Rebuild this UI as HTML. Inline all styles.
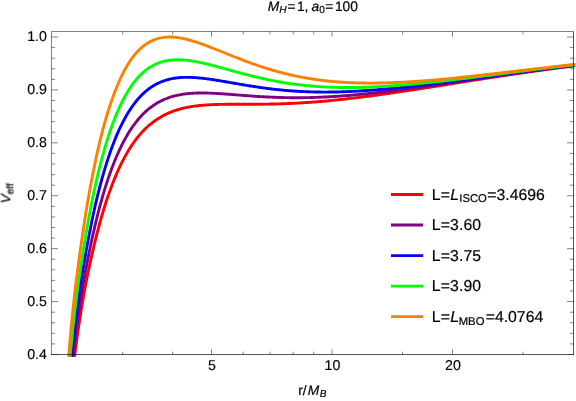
<!DOCTYPE html>
<html><head><meta charset="utf-8"><title>Veff</title><style>
html,body{margin:0;padding:0;background:#fff;}
svg{display:block;font-family:"Liberation Sans",sans-serif;text-rendering:geometricPrecision;}
</style></head><body>
<svg width="576" height="401" viewBox="0 0 576 401">
<rect width="576" height="401" fill="#fff"/>
<defs><clipPath id="c"><rect x="49" y="29" width="526.1" height="327.8"/></clipPath></defs>
<g clip-path="url(#c)" fill="none" stroke-width="2.9" stroke-linejoin="round">
<path d="M72.60,371.60 L73.79,362.55 L74.94,353.78 L76.04,345.26 L77.15,336.99 L78.26,328.98 L79.44,321.20 L80.62,313.66 L81.80,306.35 L82.98,299.27 L84.16,292.39 L85.41,285.73 L86.69,279.27 L87.96,273.02 L89.24,266.95 L90.52,261.08 L91.79,255.39 L93.05,249.87 L94.30,244.53 L95.55,239.36 L96.80,234.35 L98.06,229.51 L99.31,224.81 L100.56,220.27 L101.81,215.88 L103.06,211.63 L104.31,207.51 L105.56,203.53 L106.81,199.68 L108.07,195.96 L109.33,192.36 L110.60,188.89 L111.86,185.52 L113.11,182.27 L114.37,179.14 L115.63,176.10 L116.89,173.18 L118.15,170.35 L119.40,167.62 L120.66,164.98 L121.91,162.44 L123.17,159.99 L124.42,157.62 L125.68,155.34 L126.93,153.13 L128.19,151.01 L129.44,148.97 L130.69,146.99 L131.94,145.10 L133.20,143.27 L134.45,141.51 L135.70,139.81 L136.95,138.18 L138.20,136.61 L139.45,135.10 L140.70,133.65 L141.95,132.25 L143.20,130.91 L144.45,129.62 L145.70,128.38 L146.96,127.19 L148.21,126.05 L149.46,124.95 L150.96,123.90 L152.21,122.90 L153.45,121.93 L154.69,121.01 L155.94,120.12 L157.18,119.27 L158.42,118.46 L159.66,117.68 L160.91,116.94 L162.15,116.23 L163.39,115.55 L164.64,114.91 L165.88,114.29 L167.12,113.70 L168.37,113.14 L169.61,112.60 L170.85,112.09 L172.09,111.61 L173.34,111.14 L174.58,110.71 L175.82,110.29 L177.07,109.89 L178.31,109.52 L179.55,109.16 L180.79,108.82 L182.04,108.50 L183.28,108.20 L184.52,107.92 L185.77,107.65 L187.01,107.39 L188.25,107.15 L189.50,106.93 L190.74,106.72 L191.98,106.52 L193.22,106.33 L194.47,106.15 L195.71,105.99 L196.95,105.84 L198.20,105.69 L199.44,105.56 L200.68,105.44 L201.92,105.32 L203.17,105.22 L204.41,105.12 L205.65,105.03 L206.90,104.94 L208.14,104.86 L209.38,104.79 L210.63,104.73 L211.87,104.67 L213.11,104.62 L214.35,104.57 L215.60,104.52 L216.84,104.48 L218.08,104.45 L219.33,104.42 L220.57,104.39 L221.81,104.37 L223.05,104.35 L224.30,104.33 L225.54,104.31 L226.78,104.30 L228.03,104.29 L229.27,104.28 L230.51,104.27 L231.76,104.26 L233.00,104.26 L234.24,104.26 L235.48,104.25 L236.73,104.25 L237.97,104.25 L239.21,104.25 L240.46,104.25 L241.70,104.25 L242.94,104.25 L244.18,104.25 L245.43,104.25 L246.67,104.25 L247.91,104.25 L249.16,104.25 L250.40,104.25 L251.64,104.25 L252.89,104.24 L254.13,104.24 L255.37,104.23 L256.61,104.23 L257.86,104.22 L259.10,104.21 L260.34,104.20 L261.59,104.19 L262.83,104.18 L264.07,104.17 L265.31,104.15 L266.56,104.13 L267.80,104.12 L269.04,104.10 L270.29,104.07 L271.53,104.05 L272.77,104.02 L274.02,104.00 L275.26,103.97 L276.50,103.94 L277.74,103.90 L278.99,103.87 L280.23,103.83 L281.47,103.79 L282.72,103.75 L283.96,103.71 L285.20,103.66 L286.44,103.62 L287.69,103.57 L288.93,103.52 L290.17,103.46 L291.42,103.41 L292.66,103.35 L293.90,103.29 L295.15,103.23 L296.39,103.16 L297.63,103.10 L298.87,103.03 L300.12,102.96 L301.36,102.88 L302.60,102.81 L303.85,102.73 L305.09,102.65 L306.33,102.57 L307.57,102.49 L308.82,102.40 L310.06,102.32 L311.30,102.23 L312.55,102.14 L313.79,102.04 L315.03,101.95 L316.28,101.85 L317.52,101.75 L318.76,101.65 L320.00,101.54 L321.25,101.44 L322.49,101.33 L323.73,101.22 L324.98,101.11 L326.22,101.00 L327.46,100.88 L328.70,100.77 L329.95,100.65 L331.19,100.53 L332.43,100.40 L333.68,100.28 L334.92,100.15 L336.16,100.03 L337.41,99.90 L338.65,99.77 L339.89,99.64 L341.13,99.50 L342.38,99.37 L343.62,99.23 L344.86,99.09 L346.11,98.95 L347.35,98.81 L348.59,98.67 L349.83,98.52 L351.08,98.37 L352.32,98.23 L353.56,98.08 L354.81,97.93 L356.05,97.78 L357.29,97.62 L358.54,97.47 L359.78,97.31 L361.02,97.16 L362.26,97.00 L363.51,96.84 L364.75,96.68 L365.99,96.52 L367.24,96.36 L368.48,96.19 L369.72,96.03 L370.96,95.86 L372.21,95.70 L373.45,95.53 L374.69,95.36 L375.94,95.19 L377.18,95.02 L378.42,94.85 L379.67,94.68 L380.91,94.50 L382.15,94.33 L383.39,94.15 L384.64,93.98 L385.88,93.80 L387.12,93.62 L388.37,93.45 L389.61,93.27 L390.85,93.09 L392.09,92.91 L393.34,92.73 L394.58,92.55 L395.82,92.36 L397.07,92.18 L398.31,92.00 L399.55,91.81 L400.80,91.63 L402.04,91.44 L403.28,91.26 L404.52,91.07 L405.77,90.89 L407.01,90.70 L408.25,90.51 L409.50,90.33 L410.74,90.14 L411.98,89.95 L413.22,89.76 L414.47,89.57 L415.71,89.38 L416.95,89.20 L418.20,89.01 L419.44,88.82 L420.68,88.63 L421.93,88.43 L423.17,88.24 L424.41,88.05 L425.65,87.86 L426.90,87.67 L428.14,87.48 L429.38,87.29 L430.63,87.10 L431.87,86.91 L433.11,86.71 L434.35,86.52 L435.60,86.33 L436.84,86.14 L438.08,85.95 L439.33,85.75 L440.57,85.56 L441.81,85.36 L443.06,85.16 L444.30,84.96 L445.54,84.76 L446.78,84.56 L448.03,84.36 L449.27,84.16 L450.51,83.96 L451.76,83.76 L453.00,83.56 L454.24,83.36 L455.48,83.16 L456.73,82.96 L457.97,82.76 L459.21,82.56 L460.46,82.36 L461.70,82.16 L462.94,81.96 L464.19,81.77 L465.43,81.57 L466.67,81.37 L467.91,81.17 L469.16,80.98 L470.40,80.78 L471.64,80.58 L472.89,80.39 L474.13,80.19 L475.37,79.99 L476.61,79.80 L477.86,79.60 L479.10,79.41 L480.34,79.21 L481.59,79.02 L482.83,78.83 L484.07,78.63 L485.32,78.44 L486.56,78.25 L487.80,78.05 L489.04,77.86 L490.29,77.67 L491.53,77.48 L492.77,77.29 L494.02,77.10 L495.26,76.91 L496.50,76.72 L497.74,76.53 L498.99,76.34 L500.23,76.15 L501.47,75.96 L502.72,75.77 L503.96,75.59 L505.20,75.40 L506.45,75.21 L507.69,75.03 L508.93,74.84 L510.17,74.66 L511.42,74.47 L512.66,74.29 L513.90,74.11 L515.15,73.92 L516.39,73.74 L517.63,73.56 L518.87,73.38 L520.12,73.20 L521.36,73.01 L522.60,72.83 L523.85,72.66 L525.09,72.48 L526.33,72.30 L527.58,72.12 L528.82,71.94 L530.06,71.77 L531.30,71.59 L532.55,71.41 L533.79,71.24 L535.03,71.06 L536.28,70.89 L537.52,70.71 L538.76,70.54 L540.00,70.37 L541.25,70.20 L542.49,70.02 L543.73,69.85 L544.98,69.68 L546.22,69.51 L547.46,69.34 L548.71,69.17 L549.95,69.01 L551.19,68.84 L552.43,68.67 L553.68,68.51 L554.92,68.34 L556.16,68.17 L557.41,68.01 L558.65,67.84 L559.89,67.68 L561.13,67.52 L562.38,67.35 L563.62,67.19 L564.86,67.03 L566.11,66.87 L567.35,66.71 L568.59,66.55 L569.84,66.39 L571.08,66.23 L572.32,66.07 L573.56,65.92 L574.81,65.76 L576.05,65.60 L577.29,65.45" stroke="#ff0000"/>
<path d="M71.36,370.90 L72.54,361.11 L73.66,351.62 L74.75,342.42 L75.85,333.50 L76.99,324.85 L78.15,316.47 L79.33,308.34 L80.50,300.46 L81.68,292.83 L82.92,285.44 L84.20,278.28 L85.49,271.34 L86.77,264.62 L88.05,258.11 L89.32,251.81 L90.57,245.72 L91.82,239.82 L93.08,234.10 L94.33,228.58 L95.58,223.23 L96.83,218.06 L98.09,213.06 L99.34,208.23 L100.59,203.55 L101.84,199.03 L103.11,194.67 L104.37,190.45 L105.64,186.37 L106.90,182.44 L108.16,178.64 L109.42,174.97 L110.68,171.43 L111.94,168.01 L113.20,164.71 L114.46,161.53 L115.72,158.47 L116.98,155.51 L118.23,152.66 L119.49,149.91 L120.75,147.27 L122.00,144.72 L123.26,142.27 L124.51,139.91 L125.77,137.64 L127.02,135.45 L128.27,133.35 L129.53,131.33 L130.78,129.39 L132.04,127.52 L133.29,125.73 L134.55,124.02 L135.81,122.37 L137.06,120.78 L138.31,119.27 L139.57,117.81 L140.82,116.42 L142.08,115.09 L143.33,113.81 L144.58,112.59 L145.83,111.43 L147.08,110.31 L148.33,109.25 L149.58,108.23 L150.96,107.26 L152.21,106.34 L153.45,105.46 L154.69,104.62 L155.94,103.82 L157.18,103.07 L158.42,102.35 L159.66,101.67 L160.91,101.02 L162.15,100.41 L163.39,99.83 L164.64,99.28 L165.88,98.76 L167.12,98.27 L168.37,97.82 L169.61,97.39 L170.85,96.98 L172.09,96.60 L173.34,96.25 L174.58,95.91 L175.82,95.61 L177.07,95.32 L178.31,95.05 L179.55,94.81 L180.79,94.58 L182.04,94.37 L183.28,94.18 L184.52,94.01 L185.77,93.85 L187.01,93.71 L188.25,93.58 L189.50,93.47 L190.74,93.37 L191.98,93.28 L193.22,93.20 L194.47,93.14 L195.71,93.09 L196.95,93.05 L198.20,93.02 L199.44,93.00 L200.68,92.99 L201.92,92.98 L203.17,92.99 L204.41,93.00 L205.65,93.02 L206.90,93.05 L208.14,93.08 L209.38,93.12 L210.63,93.17 L211.87,93.22 L213.11,93.27 L214.35,93.33 L215.60,93.40 L216.84,93.46 L218.08,93.54 L219.33,93.61 L220.57,93.69 L221.81,93.77 L223.05,93.86 L224.30,93.94 L225.54,94.03 L226.78,94.12 L228.03,94.21 L229.27,94.31 L230.51,94.40 L231.76,94.50 L233.00,94.59 L234.24,94.69 L235.48,94.79 L236.73,94.88 L237.97,94.98 L239.21,95.08 L240.46,95.17 L241.70,95.27 L242.94,95.37 L244.18,95.46 L245.43,95.56 L246.67,95.65 L247.91,95.74 L249.16,95.83 L250.40,95.92 L251.64,96.01 L252.89,96.10 L254.13,96.18 L255.37,96.27 L256.61,96.35 L257.86,96.43 L259.10,96.51 L260.34,96.58 L261.59,96.66 L262.83,96.73 L264.07,96.80 L265.31,96.87 L266.56,96.93 L267.80,97.00 L269.04,97.06 L270.29,97.11 L271.53,97.17 L272.77,97.22 L274.02,97.27 L275.26,97.32 L276.50,97.37 L277.74,97.41 L278.99,97.45 L280.23,97.49 L281.47,97.52 L282.72,97.55 L283.96,97.58 L285.20,97.61 L286.44,97.63 L287.69,97.65 L288.93,97.67 L290.17,97.69 L291.42,97.70 L292.66,97.71 L293.90,97.71 L295.15,97.72 L296.39,97.72 L297.63,97.72 L298.87,97.71 L300.12,97.71 L301.36,97.70 L302.60,97.68 L303.85,97.67 L305.09,97.65 L306.33,97.63 L307.57,97.61 L308.82,97.58 L310.06,97.55 L311.30,97.52 L312.55,97.48 L313.79,97.45 L315.03,97.41 L316.28,97.37 L317.52,97.32 L318.76,97.27 L320.00,97.22 L321.25,97.17 L322.49,97.12 L323.73,97.06 L324.98,97.00 L326.22,96.94 L327.46,96.87 L328.70,96.80 L329.95,96.73 L331.19,96.66 L332.43,96.59 L333.68,96.51 L334.92,96.43 L336.16,96.35 L337.41,96.27 L338.65,96.18 L339.89,96.10 L341.13,96.01 L342.38,95.92 L343.62,95.82 L344.86,95.73 L346.11,95.63 L347.35,95.53 L348.59,95.43 L349.83,95.32 L351.08,95.22 L352.32,95.11 L353.56,95.00 L354.81,94.89 L356.05,94.78 L357.29,94.66 L358.54,94.55 L359.78,94.43 L361.02,94.31 L362.26,94.19 L363.51,94.06 L364.75,93.94 L365.99,93.81 L367.24,93.68 L368.48,93.55 L369.72,93.42 L370.96,93.29 L372.21,93.16 L373.45,93.02 L374.69,92.89 L375.94,92.75 L377.18,92.61 L378.42,92.47 L379.67,92.33 L380.91,92.18 L382.15,92.04 L383.39,91.89 L384.64,91.75 L385.88,91.60 L387.12,91.45 L388.37,91.30 L389.61,91.15 L390.85,91.00 L392.09,90.85 L393.34,90.69 L394.58,90.54 L395.82,90.38 L397.07,90.23 L398.31,90.07 L399.55,89.91 L400.80,89.75 L402.04,89.59 L403.28,89.43 L404.52,89.27 L405.77,89.10 L407.01,88.94 L408.25,88.78 L409.50,88.61 L410.74,88.45 L411.98,88.28 L413.22,88.12 L414.47,87.95 L415.71,87.78 L416.95,87.61 L418.20,87.44 L419.44,87.27 L420.68,87.10 L421.93,86.93 L423.17,86.76 L424.41,86.59 L425.65,86.42 L426.90,86.25 L428.14,86.08 L429.38,85.90 L430.63,85.73 L431.87,85.56 L433.11,85.38 L434.35,85.21 L435.60,85.03 L436.84,84.86 L438.08,84.68 L439.33,84.51 L440.57,84.33 L441.81,84.15 L443.06,83.96 L444.30,83.78 L445.54,83.59 L446.78,83.41 L448.03,83.22 L449.27,83.04 L450.51,82.85 L451.76,82.67 L453.00,82.48 L454.24,82.30 L455.48,82.11 L456.73,81.93 L457.97,81.74 L459.21,81.56 L460.46,81.37 L461.70,81.19 L462.94,81.00 L464.19,80.82 L465.43,80.63 L466.67,80.45 L467.91,80.26 L469.16,80.08 L470.40,79.89 L471.64,79.71 L472.89,79.52 L474.13,79.34 L475.37,79.15 L476.61,78.97 L477.86,78.78 L479.10,78.60 L480.34,78.42 L481.59,78.23 L482.83,78.05 L484.07,77.87 L485.32,77.68 L486.56,77.50 L487.80,77.32 L489.04,77.14 L490.29,76.95 L491.53,76.77 L492.77,76.59 L494.02,76.41 L495.26,76.23 L496.50,76.05 L497.74,75.87 L498.99,75.69 L500.23,75.51 L501.47,75.33 L502.72,75.15 L503.96,74.97 L505.20,74.79 L506.45,74.62 L507.69,74.44 L508.93,74.26 L510.17,74.08 L511.42,73.91 L512.66,73.73 L513.90,73.55 L515.15,73.38 L516.39,73.20 L517.63,73.03 L518.87,72.85 L520.12,72.68 L521.36,72.51 L522.60,72.33 L523.85,72.16 L525.09,71.99 L526.33,71.82 L527.58,71.65 L528.82,71.48 L530.06,71.30 L531.30,71.13 L532.55,70.96 L533.79,70.80 L535.03,70.63 L536.28,70.46 L537.52,70.29 L538.76,70.12 L540.00,69.96 L541.25,69.79 L542.49,69.62 L543.73,69.46 L544.98,69.29 L546.22,69.13 L547.46,68.96 L548.71,68.80 L549.95,68.64 L551.19,68.47 L552.43,68.31 L553.68,68.15 L554.92,67.99 L556.16,67.83 L557.41,67.67 L558.65,67.51 L559.89,67.35 L561.13,67.19 L562.38,67.03 L563.62,66.87 L564.86,66.72 L566.11,66.56 L567.35,66.40 L568.59,66.25 L569.84,66.09 L571.08,65.94 L572.32,65.78 L573.56,65.63 L574.81,65.48 L576.05,65.33 L577.29,65.17" stroke="#800080"/>
<path d="M70.10,369.57 L71.28,358.90 L72.37,348.57 L73.44,338.55 L74.53,328.84 L75.69,319.44 L76.86,310.33 L78.02,301.50 L79.19,292.95 L80.44,284.67 L81.73,276.66 L83.02,268.90 L84.30,261.39 L85.58,254.12 L86.84,247.09 L88.09,240.29 L89.35,233.71 L90.60,227.35 L91.86,221.19 L93.11,215.25 L94.36,209.50 L95.62,203.94 L96.87,198.58 L98.14,193.39 L99.41,188.39 L100.68,183.55 L101.94,178.89 L103.21,174.39 L104.47,170.04 L105.74,165.85 L107.00,161.81 L108.26,157.92 L109.53,154.17 L110.79,150.55 L112.05,147.06 L113.31,143.71 L114.57,140.48 L115.82,137.37 L117.08,134.38 L118.34,131.50 L119.60,128.74 L120.86,126.08 L122.12,123.53 L123.39,121.08 L124.65,118.73 L125.91,116.47 L127.17,114.30 L128.42,112.23 L129.68,110.24 L130.94,108.33 L132.20,106.51 L133.45,104.77 L134.71,103.10 L135.96,101.50 L137.22,99.98 L138.47,98.53 L139.72,97.14 L140.98,95.82 L142.23,94.57 L143.48,93.37 L144.73,92.23 L145.98,91.15 L147.23,90.12 L148.48,89.15 L149.72,88.23 L150.96,87.36 L152.21,86.53 L153.45,85.76 L154.69,85.02 L155.94,84.33 L157.18,83.68 L158.42,83.08 L159.66,82.51 L160.91,81.97 L162.15,81.48 L163.39,81.02 L164.64,80.59 L165.88,80.19 L167.12,79.83 L168.37,79.49 L169.61,79.19 L170.85,78.91 L172.09,78.65 L173.34,78.43 L174.58,78.22 L175.82,78.05 L177.07,77.89 L178.31,77.75 L179.55,77.64 L180.79,77.54 L182.04,77.47 L183.28,77.41 L184.52,77.37 L185.77,77.35 L187.01,77.34 L188.25,77.34 L189.50,77.36 L190.74,77.40 L191.98,77.45 L193.22,77.51 L194.47,77.58 L195.71,77.66 L196.95,77.76 L198.20,77.86 L199.44,77.97 L200.68,78.10 L201.92,78.23 L203.17,78.37 L204.41,78.51 L205.65,78.66 L206.90,78.82 L208.14,78.99 L209.38,79.16 L210.63,79.34 L211.87,79.52 L213.11,79.70 L214.35,79.89 L215.60,80.09 L216.84,80.29 L218.08,80.49 L219.33,80.69 L220.57,80.90 L221.81,81.10 L223.05,81.31 L224.30,81.53 L225.54,81.74 L226.78,81.95 L228.03,82.17 L229.27,82.38 L230.51,82.60 L231.76,82.82 L233.00,83.03 L234.24,83.25 L235.48,83.46 L236.73,83.68 L237.97,83.89 L239.21,84.11 L240.46,84.32 L241.70,84.53 L242.94,84.74 L244.18,84.95 L245.43,85.16 L246.67,85.36 L247.91,85.57 L249.16,85.77 L250.40,85.97 L251.64,86.16 L252.89,86.36 L254.13,86.55 L255.37,86.74 L256.61,86.93 L257.86,87.11 L259.10,87.29 L260.34,87.47 L261.59,87.65 L262.83,87.82 L264.07,87.99 L265.31,88.16 L266.56,88.32 L267.80,88.48 L269.04,88.64 L270.29,88.79 L271.53,88.94 L272.77,89.09 L274.02,89.23 L275.26,89.37 L276.50,89.51 L277.74,89.64 L278.99,89.77 L280.23,89.90 L281.47,90.02 L282.72,90.14 L283.96,90.25 L285.20,90.37 L286.44,90.47 L287.69,90.58 L288.93,90.68 L290.17,90.78 L291.42,90.87 L292.66,90.96 L293.90,91.05 L295.15,91.13 L296.39,91.21 L297.63,91.29 L298.87,91.36 L300.12,91.43 L301.36,91.49 L302.60,91.55 L303.85,91.61 L305.09,91.67 L306.33,91.72 L307.57,91.77 L308.82,91.81 L310.06,91.85 L311.30,91.89 L312.55,91.92 L313.79,91.95 L315.03,91.98 L316.28,92.00 L317.52,92.03 L318.76,92.04 L320.00,92.06 L321.25,92.07 L322.49,92.08 L323.73,92.08 L324.98,92.08 L326.22,92.08 L327.46,92.08 L328.70,92.07 L329.95,92.06 L331.19,92.04 L332.43,92.03 L333.68,92.01 L334.92,91.98 L336.16,91.96 L337.41,91.93 L338.65,91.90 L339.89,91.86 L341.13,91.83 L342.38,91.79 L343.62,91.75 L344.86,91.70 L346.11,91.66 L347.35,91.61 L348.59,91.55 L349.83,91.50 L351.08,91.44 L352.32,91.38 L353.56,91.32 L354.81,91.25 L356.05,91.19 L357.29,91.12 L358.54,91.05 L359.78,90.97 L361.02,90.90 L362.26,90.82 L363.51,90.74 L364.75,90.66 L365.99,90.57 L367.24,90.49 L368.48,90.40 L369.72,90.31 L370.96,90.22 L372.21,90.12 L373.45,90.03 L374.69,89.93 L375.94,89.83 L377.18,89.73 L378.42,89.62 L379.67,89.52 L380.91,89.41 L382.15,89.30 L383.39,89.19 L384.64,89.08 L385.88,88.97 L387.12,88.85 L388.37,88.74 L389.61,88.62 L390.85,88.50 L392.09,88.38 L393.34,88.26 L394.58,88.14 L395.82,88.01 L397.07,87.89 L398.31,87.76 L399.55,87.63 L400.80,87.50 L402.04,87.37 L403.28,87.24 L404.52,87.11 L405.77,86.97 L407.01,86.84 L408.25,86.70 L409.50,86.56 L410.74,86.42 L411.98,86.29 L413.22,86.15 L414.47,86.00 L415.71,85.86 L416.95,85.72 L418.20,85.58 L419.44,85.43 L420.68,85.29 L421.93,85.14 L423.17,84.99 L424.41,84.84 L425.65,84.70 L426.90,84.55 L428.14,84.40 L429.38,84.25 L430.63,84.09 L431.87,83.94 L433.11,83.79 L434.35,83.64 L435.60,83.48 L436.84,83.33 L438.08,83.18 L439.33,83.02 L440.57,82.86 L441.81,82.70 L443.06,82.53 L444.30,82.37 L445.54,82.20 L446.78,82.03 L448.03,81.87 L449.27,81.70 L450.51,81.53 L451.76,81.37 L453.00,81.20 L454.24,81.03 L455.48,80.86 L456.73,80.69 L457.97,80.53 L459.21,80.36 L460.46,80.19 L461.70,80.02 L462.94,79.85 L464.19,79.68 L465.43,79.51 L466.67,79.34 L467.91,79.17 L469.16,79.00 L470.40,78.83 L471.64,78.66 L472.89,78.49 L474.13,78.32 L475.37,78.15 L476.61,77.98 L477.86,77.80 L479.10,77.63 L480.34,77.46 L481.59,77.29 L482.83,77.12 L484.07,76.95 L485.32,76.78 L486.56,76.61 L487.80,76.44 L489.04,76.27 L490.29,76.10 L491.53,75.93 L492.77,75.76 L494.02,75.59 L495.26,75.42 L496.50,75.25 L497.74,75.08 L498.99,74.91 L500.23,74.74 L501.47,74.57 L502.72,74.41 L503.96,74.24 L505.20,74.07 L506.45,73.90 L507.69,73.73 L508.93,73.56 L510.17,73.40 L511.42,73.23 L512.66,73.06 L513.90,72.90 L515.15,72.73 L516.39,72.56 L517.63,72.40 L518.87,72.23 L520.12,72.07 L521.36,71.90 L522.60,71.74 L523.85,71.57 L525.09,71.41 L526.33,71.24 L527.58,71.08 L528.82,70.92 L530.06,70.75 L531.30,70.59 L532.55,70.43 L533.79,70.27 L535.03,70.11 L536.28,69.94 L537.52,69.78 L538.76,69.62 L540.00,69.46 L541.25,69.30 L542.49,69.14 L543.73,68.98 L544.98,68.83 L546.22,68.67 L547.46,68.51 L548.71,68.35 L549.95,68.20 L551.19,68.04 L552.43,67.88 L553.68,67.73 L554.92,67.57 L556.16,67.42 L557.41,67.26 L558.65,67.11 L559.89,66.95 L561.13,66.80 L562.38,66.65 L563.62,66.50 L564.86,66.34 L566.11,66.19 L567.35,66.04 L568.59,65.89 L569.84,65.74 L571.08,65.59 L572.32,65.44 L573.56,65.29 L574.81,65.14 L576.05,65.00 L577.29,64.85" stroke="#0000ff"/>
<path d="M68.86,369.30 L70.03,357.68 L71.09,346.42 L72.15,335.51 L73.26,324.95 L74.41,314.71 L75.57,304.80 L76.73,295.21 L77.95,285.92 L79.24,276.94 L80.53,268.24 L81.82,259.83 L83.10,251.69 L84.36,243.82 L85.62,236.21 L86.87,228.85 L88.13,221.74 L89.38,214.87 L90.64,208.23 L91.89,201.81 L93.16,195.62 L94.43,189.64 L95.71,183.87 L96.98,178.30 L98.25,172.92 L99.51,167.74 L100.78,162.74 L102.05,157.92 L103.32,153.28 L104.58,148.81 L105.85,144.50 L107.11,140.35 L108.37,136.36 L109.63,132.51 L110.90,128.82 L112.17,125.26 L113.44,121.85 L114.70,118.57 L115.97,115.41 L117.24,112.39 L118.50,109.49 L119.77,106.70 L121.03,104.03 L122.29,101.47 L123.55,99.03 L124.81,96.68 L126.07,94.44 L127.33,92.29 L128.59,90.24 L129.83,88.29 L131.08,86.42 L132.32,84.64 L133.56,82.94 L134.81,81.33 L136.05,79.79 L137.29,78.33 L138.53,76.95 L139.78,75.63 L141.02,74.38 L142.26,73.21 L143.51,72.09 L144.75,71.04 L145.99,70.05 L147.24,69.11 L148.48,68.23 L149.72,67.41 L150.96,66.64 L152.21,65.92 L153.45,65.25 L154.69,64.62 L155.94,64.05 L157.18,63.51 L158.42,63.02 L159.66,62.57 L160.91,62.15 L162.15,61.78 L163.39,61.44 L164.64,61.14 L165.88,60.87 L167.12,60.63 L168.37,60.42 L169.61,60.24 L170.85,60.10 L172.09,59.98 L173.34,59.88 L174.58,59.81 L175.82,59.77 L177.07,59.75 L178.31,59.75 L179.55,59.77 L180.79,59.81 L182.04,59.87 L183.28,59.96 L184.52,60.05 L185.77,60.17 L187.01,60.30 L188.25,60.45 L189.50,60.61 L190.74,60.78 L191.98,60.97 L193.22,61.17 L194.47,61.38 L195.71,61.61 L196.95,61.84 L198.20,62.08 L199.44,62.34 L200.68,62.60 L201.92,62.87 L203.17,63.14 L204.41,63.43 L205.65,63.72 L206.90,64.02 L208.14,64.32 L209.38,64.63 L210.63,64.94 L211.87,65.26 L213.11,65.58 L214.35,65.91 L215.60,66.24 L216.84,66.57 L218.08,66.90 L219.33,67.24 L220.57,67.58 L221.81,67.92 L223.05,68.26 L224.30,68.60 L225.54,68.94 L226.78,69.29 L228.03,69.63 L229.27,69.97 L230.51,70.32 L231.76,70.66 L233.00,71.00 L234.24,71.34 L235.48,71.68 L236.73,72.02 L237.97,72.36 L239.21,72.69 L240.46,73.02 L241.70,73.36 L242.94,73.68 L244.18,74.01 L245.43,74.34 L246.67,74.66 L247.91,74.98 L249.16,75.29 L250.40,75.60 L251.64,75.91 L252.89,76.22 L254.13,76.52 L255.37,76.82 L256.61,77.12 L257.86,77.41 L259.10,77.70 L260.34,77.99 L261.59,78.27 L262.83,78.54 L264.07,78.82 L265.31,79.09 L266.56,79.35 L267.80,79.62 L269.04,79.87 L270.29,80.13 L271.53,80.37 L272.77,80.62 L274.02,80.86 L275.26,81.10 L276.50,81.33 L277.74,81.56 L278.99,81.78 L280.23,82.00 L281.47,82.21 L282.72,82.42 L283.96,82.63 L285.20,82.83 L286.44,83.02 L287.69,83.22 L288.93,83.40 L290.17,83.59 L291.42,83.77 L292.66,83.94 L293.90,84.11 L295.15,84.27 L296.39,84.44 L297.63,84.59 L298.87,84.74 L300.12,84.89 L301.36,85.04 L302.60,85.17 L303.85,85.31 L305.09,85.44 L306.33,85.57 L307.57,85.69 L308.82,85.81 L310.06,85.92 L311.30,86.03 L312.55,86.13 L313.79,86.24 L315.03,86.33 L316.28,86.42 L317.52,86.51 L318.76,86.60 L320.00,86.68 L321.25,86.76 L322.49,86.83 L323.73,86.90 L324.98,86.96 L326.22,87.03 L327.46,87.08 L328.70,87.14 L329.95,87.19 L331.19,87.23 L332.43,87.28 L333.68,87.32 L334.92,87.35 L336.16,87.38 L337.41,87.41 L338.65,87.44 L339.89,87.46 L341.13,87.48 L342.38,87.49 L343.62,87.51 L344.86,87.51 L346.11,87.52 L347.35,87.52 L348.59,87.52 L349.83,87.52 L351.08,87.51 L352.32,87.50 L353.56,87.49 L354.81,87.47 L356.05,87.45 L357.29,87.43 L358.54,87.41 L359.78,87.38 L361.02,87.35 L362.26,87.32 L363.51,87.28 L364.75,87.24 L365.99,87.20 L367.24,87.16 L368.48,87.11 L369.72,87.07 L370.96,87.02 L372.21,86.96 L373.45,86.91 L374.69,86.85 L375.94,86.79 L377.18,86.73 L378.42,86.66 L379.67,86.60 L380.91,86.53 L382.15,86.46 L383.39,86.38 L384.64,86.31 L385.88,86.23 L387.12,86.15 L388.37,86.07 L389.61,85.99 L390.85,85.90 L392.09,85.82 L393.34,85.73 L394.58,85.64 L395.82,85.55 L397.07,85.45 L398.31,85.36 L399.55,85.26 L400.80,85.16 L402.04,85.06 L403.28,84.96 L404.52,84.86 L405.77,84.75 L407.01,84.65 L408.25,84.54 L409.50,84.43 L410.74,84.32 L411.98,84.21 L413.22,84.09 L414.47,83.98 L415.71,83.87 L416.95,83.75 L418.20,83.63 L419.44,83.51 L420.68,83.39 L421.93,83.27 L423.17,83.15 L424.41,83.02 L425.65,82.90 L426.90,82.78 L428.14,82.65 L429.38,82.52 L430.63,82.39 L431.87,82.26 L433.11,82.13 L434.35,82.00 L435.60,81.87 L436.84,81.74 L438.08,81.61 L439.33,81.47 L440.57,81.33 L441.81,81.19 L443.06,81.04 L444.30,80.90 L445.54,80.75 L446.78,80.61 L448.03,80.46 L449.27,80.31 L450.51,80.16 L451.76,80.01 L453.00,79.86 L454.24,79.71 L455.48,79.56 L456.73,79.41 L457.97,79.26 L459.21,79.11 L460.46,78.96 L461.70,78.80 L462.94,78.65 L464.19,78.50 L465.43,78.34 L466.67,78.19 L467.91,78.03 L469.16,77.88 L470.40,77.72 L471.64,77.57 L472.89,77.41 L474.13,77.26 L475.37,77.10 L476.61,76.94 L477.86,76.79 L479.10,76.63 L480.34,76.47 L481.59,76.31 L482.83,76.16 L484.07,76.00 L485.32,75.84 L486.56,75.68 L487.80,75.53 L489.04,75.37 L490.29,75.21 L491.53,75.05 L492.77,74.89 L494.02,74.74 L495.26,74.58 L496.50,74.42 L497.74,74.26 L498.99,74.10 L500.23,73.95 L501.47,73.79 L502.72,73.63 L503.96,73.47 L505.20,73.31 L506.45,73.16 L507.69,73.00 L508.93,72.84 L510.17,72.68 L511.42,72.52 L512.66,72.37 L513.90,72.21 L515.15,72.05 L516.39,71.90 L517.63,71.74 L518.87,71.58 L520.12,71.43 L521.36,71.27 L522.60,71.11 L523.85,70.96 L525.09,70.80 L526.33,70.65 L527.58,70.49 L528.82,70.34 L530.06,70.18 L531.30,70.03 L532.55,69.87 L533.79,69.72 L535.03,69.56 L536.28,69.41 L537.52,69.26 L538.76,69.10 L540.00,68.95 L541.25,68.80 L542.49,68.64 L543.73,68.49 L544.98,68.34 L546.22,68.19 L547.46,68.04 L548.71,67.89 L549.95,67.74 L551.19,67.59 L552.43,67.44 L553.68,67.29 L554.92,67.14 L556.16,66.99 L557.41,66.84 L558.65,66.69 L559.89,66.54 L561.13,66.40 L562.38,66.25 L563.62,66.10 L564.86,65.95 L566.11,65.81 L567.35,65.66 L568.59,65.52 L569.84,65.37 L571.08,65.23 L572.32,65.08 L573.56,64.94 L574.81,64.80 L576.05,64.65 L577.29,64.51" stroke="#00ff00"/>
<path d="M67.61,368.28 L68.75,355.49 L69.79,343.11 L70.83,331.11 L71.97,319.50 L73.11,308.26 L74.26,297.38 L75.46,286.86 L76.76,276.68 L78.06,266.83 L79.35,257.30 L80.62,248.09 L81.88,239.19 L83.14,230.58 L84.40,222.27 L85.66,214.24 L86.91,206.48 L88.17,198.99 L89.45,191.76 L90.73,184.78 L92.01,178.05 L93.28,171.55 L94.56,165.29 L95.83,159.25 L97.10,153.43 L98.37,147.82 L99.64,142.42 L100.91,137.22 L102.18,132.21 L103.45,127.40 L104.73,122.76 L106.01,118.31 L107.28,114.03 L108.55,109.91 L109.83,105.96 L111.10,102.17 L112.37,98.53 L113.64,95.04 L114.91,91.70 L116.16,88.49 L117.40,85.42 L118.65,82.49 L119.89,79.68 L121.13,77.00 L122.38,74.43 L123.62,71.98 L124.86,69.65 L126.11,67.42 L127.35,65.30 L128.59,63.29 L129.83,61.37 L131.08,59.55 L132.32,57.82 L133.56,56.18 L134.81,54.63 L136.05,53.17 L137.29,51.78 L138.53,50.48 L139.78,49.25 L141.02,48.10 L142.26,47.01 L143.51,46.00 L144.75,45.05 L145.99,44.17 L147.24,43.35 L148.48,42.59 L149.72,41.89 L150.96,41.24 L152.21,40.65 L153.45,40.10 L154.69,39.61 L155.94,39.17 L157.18,38.78 L158.42,38.42 L159.66,38.12 L160.91,37.85 L162.15,37.62 L163.39,37.43 L164.64,37.28 L165.88,37.17 L167.12,37.09 L168.37,37.04 L169.61,37.02 L170.85,37.03 L172.09,37.07 L173.34,37.14 L174.58,37.24 L175.82,37.36 L177.07,37.50 L178.31,37.67 L179.55,37.86 L180.79,38.07 L182.04,38.30 L183.28,38.55 L184.52,38.82 L185.77,39.11 L187.01,39.41 L188.25,39.73 L189.50,40.06 L190.74,40.41 L191.98,40.77 L193.22,41.14 L194.47,41.52 L195.71,41.92 L196.95,42.32 L198.20,42.74 L199.44,43.16 L200.68,43.59 L201.92,44.03 L203.17,44.48 L204.41,44.94 L205.65,45.40 L206.90,45.86 L208.14,46.34 L209.38,46.81 L210.63,47.29 L211.87,47.78 L213.11,48.27 L214.35,48.76 L215.60,49.25 L216.84,49.75 L218.08,50.25 L219.33,50.75 L220.57,51.25 L221.81,51.75 L223.05,52.25 L224.30,52.75 L225.54,53.25 L226.78,53.76 L228.03,54.26 L229.27,54.76 L230.51,55.25 L231.76,55.75 L233.00,56.25 L234.24,56.74 L235.48,57.23 L236.73,57.72 L237.97,58.21 L239.21,58.69 L240.46,59.17 L241.70,59.65 L242.94,60.13 L244.18,60.60 L245.43,61.06 L246.67,61.53 L247.91,61.99 L249.16,62.44 L250.40,62.90 L251.64,63.34 L252.89,63.79 L254.13,64.23 L255.37,64.66 L256.61,65.09 L257.86,65.52 L259.10,65.94 L260.34,66.36 L261.59,66.77 L262.83,67.17 L264.07,67.57 L265.31,67.97 L266.56,68.36 L267.80,68.75 L269.04,69.13 L270.29,69.50 L271.53,69.87 L272.77,70.24 L274.02,70.60 L275.26,70.95 L276.50,71.30 L277.74,71.64 L278.99,71.98 L280.23,72.31 L281.47,72.64 L282.72,72.96 L283.96,73.27 L285.20,73.58 L286.44,73.89 L287.69,74.19 L288.93,74.48 L290.17,74.77 L291.42,75.05 L292.66,75.33 L293.90,75.60 L295.15,75.87 L296.39,76.13 L297.63,76.38 L298.87,76.63 L300.12,76.88 L301.36,77.12 L302.60,77.35 L303.85,77.58 L305.09,77.80 L306.33,78.02 L307.57,78.24 L308.82,78.44 L310.06,78.65 L311.30,78.84 L312.55,79.04 L313.79,79.22 L315.03,79.41 L316.28,79.58 L317.52,79.76 L318.76,79.92 L320.00,80.09 L321.25,80.24 L322.49,80.40 L323.73,80.55 L324.98,80.69 L326.22,80.83 L327.46,80.96 L328.70,81.09 L329.95,81.22 L331.19,81.34 L332.43,81.45 L333.68,81.57 L334.92,81.67 L336.16,81.78 L337.41,81.87 L338.65,81.97 L339.89,82.06 L341.13,82.15 L342.38,82.23 L343.62,82.31 L344.86,82.38 L346.11,82.45 L347.35,82.52 L348.59,82.58 L349.83,82.64 L351.08,82.69 L352.32,82.74 L353.56,82.79 L354.81,82.83 L356.05,82.87 L357.29,82.91 L358.54,82.94 L359.78,82.97 L361.02,83.00 L362.26,83.02 L363.51,83.04 L364.75,83.06 L365.99,83.07 L367.24,83.08 L368.48,83.09 L369.72,83.09 L370.96,83.09 L372.21,83.09 L373.45,83.08 L374.69,83.07 L375.94,83.06 L377.18,83.05 L378.42,83.03 L379.67,83.01 L380.91,82.99 L382.15,82.96 L383.39,82.94 L384.64,82.90 L385.88,82.87 L387.12,82.84 L388.37,82.80 L389.61,82.76 L390.85,82.72 L392.09,82.67 L393.34,82.62 L394.58,82.57 L395.82,82.52 L397.07,82.47 L398.31,82.41 L399.55,82.35 L400.80,82.29 L402.04,82.23 L403.28,82.16 L404.52,82.10 L405.77,82.03 L407.01,81.96 L408.25,81.89 L409.50,81.81 L410.74,81.74 L411.98,81.66 L413.22,81.58 L414.47,81.50 L415.71,81.42 L416.95,81.33 L418.20,81.25 L419.44,81.16 L420.68,81.07 L421.93,80.98 L423.17,80.89 L424.41,80.79 L425.65,80.70 L426.90,80.60 L428.14,80.51 L429.38,80.41 L430.63,80.31 L431.87,80.20 L433.11,80.10 L434.35,80.00 L435.60,79.89 L436.84,79.79 L438.08,79.68 L439.33,79.57 L440.57,79.46 L441.81,79.34 L443.06,79.22 L444.30,79.10 L445.54,78.98 L446.78,78.85 L448.03,78.73 L449.27,78.60 L450.51,78.48 L451.76,78.35 L453.00,78.22 L454.24,78.10 L455.48,77.97 L456.73,77.84 L457.97,77.71 L459.21,77.58 L460.46,77.44 L461.70,77.31 L462.94,77.18 L464.19,77.04 L465.43,76.91 L466.67,76.78 L467.91,76.64 L469.16,76.50 L470.40,76.37 L471.64,76.23 L472.89,76.09 L474.13,75.95 L475.37,75.81 L476.61,75.68 L477.86,75.54 L479.10,75.40 L480.34,75.26 L481.59,75.11 L482.83,74.97 L484.07,74.83 L485.32,74.69 L486.56,74.55 L487.80,74.41 L489.04,74.26 L490.29,74.12 L491.53,73.98 L492.77,73.83 L494.02,73.69 L495.26,73.55 L496.50,73.40 L497.74,73.26 L498.99,73.11 L500.23,72.97 L501.47,72.82 L502.72,72.68 L503.96,72.53 L505.20,72.39 L506.45,72.24 L507.69,72.10 L508.93,71.95 L510.17,71.81 L511.42,71.66 L512.66,71.52 L513.90,71.37 L515.15,71.22 L516.39,71.08 L517.63,70.93 L518.87,70.79 L520.12,70.64 L521.36,70.50 L522.60,70.35 L523.85,70.20 L525.09,70.06 L526.33,69.91 L527.58,69.77 L528.82,69.62 L530.06,69.48 L531.30,69.33 L532.55,69.19 L533.79,69.04 L535.03,68.90 L536.28,68.75 L537.52,68.61 L538.76,68.46 L540.00,68.32 L541.25,68.18 L542.49,68.03 L543.73,67.89 L544.98,67.74 L546.22,67.60 L547.46,67.46 L548.71,67.32 L549.95,67.17 L551.19,67.03 L552.43,66.89 L553.68,66.75 L554.92,66.60 L556.16,66.46 L557.41,66.32 L558.65,66.18 L559.89,66.04 L561.13,65.90 L562.38,65.76 L563.62,65.62 L564.86,65.48 L566.11,65.34 L567.35,65.20 L568.59,65.06 L569.84,64.92 L571.08,64.78 L572.32,64.64 L573.56,64.51 L574.81,64.37 L576.05,64.23 L577.29,64.09" stroke="#ff8000"/>
</g>
<g fill="none" stroke-width="1" stroke="#000">
<path d="M51.5,354.5 V31.5 H573.5" stroke-opacity="0.49"/>
<path d="M51.0,354.5 H574.0 M573.5,354.5 V31.5" stroke-opacity="0.66"/>
<path d="M51.0,354.5 h6.6 M574.0,354.5 h-6.6" stroke-opacity="0.4"/>
</g>
<g stroke="#000" stroke-opacity="0.49" stroke-width="1" fill="none">
<line x1="51.50" y1="343.92" x2="55.10" y2="343.92"/>
<line x1="573.50" y1="343.92" x2="569.90" y2="343.92"/>
<line x1="51.50" y1="333.33" x2="55.10" y2="333.33"/>
<line x1="573.50" y1="333.33" x2="569.90" y2="333.33"/>
<line x1="51.50" y1="322.75" x2="55.10" y2="322.75"/>
<line x1="573.50" y1="322.75" x2="569.90" y2="322.75"/>
<line x1="51.50" y1="312.17" x2="55.10" y2="312.17"/>
<line x1="573.50" y1="312.17" x2="569.90" y2="312.17"/>
<line x1="51.50" y1="301.58" x2="58.00" y2="301.58"/>
<line x1="573.50" y1="301.58" x2="567.00" y2="301.58"/>
<line x1="51.50" y1="291.00" x2="55.10" y2="291.00"/>
<line x1="573.50" y1="291.00" x2="569.90" y2="291.00"/>
<line x1="51.50" y1="280.42" x2="55.10" y2="280.42"/>
<line x1="573.50" y1="280.42" x2="569.90" y2="280.42"/>
<line x1="51.50" y1="269.83" x2="55.10" y2="269.83"/>
<line x1="573.50" y1="269.83" x2="569.90" y2="269.83"/>
<line x1="51.50" y1="259.25" x2="55.10" y2="259.25"/>
<line x1="573.50" y1="259.25" x2="569.90" y2="259.25"/>
<line x1="51.50" y1="248.67" x2="58.00" y2="248.67"/>
<line x1="573.50" y1="248.67" x2="567.00" y2="248.67"/>
<line x1="51.50" y1="238.08" x2="55.10" y2="238.08"/>
<line x1="573.50" y1="238.08" x2="569.90" y2="238.08"/>
<line x1="51.50" y1="227.50" x2="55.10" y2="227.50"/>
<line x1="573.50" y1="227.50" x2="569.90" y2="227.50"/>
<line x1="51.50" y1="216.92" x2="55.10" y2="216.92"/>
<line x1="573.50" y1="216.92" x2="569.90" y2="216.92"/>
<line x1="51.50" y1="206.33" x2="55.10" y2="206.33"/>
<line x1="573.50" y1="206.33" x2="569.90" y2="206.33"/>
<line x1="51.50" y1="195.75" x2="58.00" y2="195.75"/>
<line x1="573.50" y1="195.75" x2="567.00" y2="195.75"/>
<line x1="51.50" y1="185.17" x2="55.10" y2="185.17"/>
<line x1="573.50" y1="185.17" x2="569.90" y2="185.17"/>
<line x1="51.50" y1="174.58" x2="55.10" y2="174.58"/>
<line x1="573.50" y1="174.58" x2="569.90" y2="174.58"/>
<line x1="51.50" y1="164.00" x2="55.10" y2="164.00"/>
<line x1="573.50" y1="164.00" x2="569.90" y2="164.00"/>
<line x1="51.50" y1="153.42" x2="55.10" y2="153.42"/>
<line x1="573.50" y1="153.42" x2="569.90" y2="153.42"/>
<line x1="51.50" y1="142.83" x2="58.00" y2="142.83"/>
<line x1="573.50" y1="142.83" x2="567.00" y2="142.83"/>
<line x1="51.50" y1="132.25" x2="55.10" y2="132.25"/>
<line x1="573.50" y1="132.25" x2="569.90" y2="132.25"/>
<line x1="51.50" y1="121.67" x2="55.10" y2="121.67"/>
<line x1="573.50" y1="121.67" x2="569.90" y2="121.67"/>
<line x1="51.50" y1="111.08" x2="55.10" y2="111.08"/>
<line x1="573.50" y1="111.08" x2="569.90" y2="111.08"/>
<line x1="51.50" y1="100.50" x2="55.10" y2="100.50"/>
<line x1="573.50" y1="100.50" x2="569.90" y2="100.50"/>
<line x1="51.50" y1="89.92" x2="58.00" y2="89.92"/>
<line x1="573.50" y1="89.92" x2="567.00" y2="89.92"/>
<line x1="51.50" y1="79.33" x2="55.10" y2="79.33"/>
<line x1="573.50" y1="79.33" x2="569.90" y2="79.33"/>
<line x1="51.50" y1="68.75" x2="55.10" y2="68.75"/>
<line x1="573.50" y1="68.75" x2="569.90" y2="68.75"/>
<line x1="51.50" y1="58.17" x2="55.10" y2="58.17"/>
<line x1="573.50" y1="58.17" x2="569.90" y2="58.17"/>
<line x1="51.50" y1="47.58" x2="55.10" y2="47.58"/>
<line x1="573.50" y1="47.58" x2="569.90" y2="47.58"/>
<line x1="51.50" y1="37.00" x2="58.00" y2="37.00"/>
<line x1="573.50" y1="37.00" x2="567.00" y2="37.00"/>
<line x1="211.50" y1="354.50" x2="211.50" y2="349.40"/>
<line x1="211.50" y1="31.50" x2="211.50" y2="36.60"/>
<line x1="332.00" y1="354.50" x2="332.00" y2="349.40"/>
<line x1="332.00" y1="31.50" x2="332.00" y2="36.60"/>
<line x1="452.50" y1="354.50" x2="452.50" y2="349.40"/>
<line x1="452.50" y1="31.50" x2="452.50" y2="36.60"/>
<line x1="122.70" y1="354.50" x2="122.70" y2="351.60"/>
<line x1="122.70" y1="31.50" x2="122.70" y2="34.40"/>
<line x1="172.71" y1="354.50" x2="172.71" y2="351.60"/>
<line x1="172.71" y1="31.50" x2="172.71" y2="34.40"/>
<line x1="243.20" y1="354.50" x2="243.20" y2="351.60"/>
<line x1="243.20" y1="31.50" x2="243.20" y2="34.40"/>
<line x1="269.99" y1="354.50" x2="269.99" y2="351.60"/>
<line x1="269.99" y1="31.50" x2="269.99" y2="34.40"/>
<line x1="293.21" y1="354.50" x2="293.21" y2="351.60"/>
<line x1="293.21" y1="31.50" x2="293.21" y2="34.40"/>
<line x1="313.68" y1="354.50" x2="313.68" y2="351.60"/>
<line x1="313.68" y1="31.50" x2="313.68" y2="34.40"/>
<line x1="402.49" y1="354.50" x2="402.49" y2="351.60"/>
<line x1="402.49" y1="31.50" x2="402.49" y2="34.40"/>
<line x1="522.99" y1="354.50" x2="522.99" y2="351.60"/>
<line x1="522.99" y1="31.50" x2="522.99" y2="34.40"/>
</g>
<line x1="391" y1="194.55" x2="423.2" y2="194.55" stroke="#ff0000" stroke-width="2.9"/>
<line x1="391" y1="225.07" x2="423.2" y2="225.07" stroke="#800080" stroke-width="2.9"/>
<line x1="391" y1="255.59" x2="423.2" y2="255.59" stroke="#0000ff" stroke-width="2.9"/>
<line x1="391" y1="286.11" x2="423.2" y2="286.11" stroke="#00ff00" stroke-width="2.9"/>
<line x1="391" y1="316.63" x2="423.2" y2="316.63" stroke="#ff8000" stroke-width="2.9"/>

<g fill="#000" stroke="#000" stroke-width="0.2" style="will-change:transform;filter:grayscale(1)">
<g font-size="14.2" stroke-width="0.15">
<text x="46.9" y="358.60" text-anchor="end">0.4</text>
<text x="46.9" y="305.68" text-anchor="end">0.5</text>
<text x="46.9" y="252.77" text-anchor="end">0.6</text>
<text x="46.9" y="199.85" text-anchor="end">0.7</text>
<text x="46.9" y="146.93" text-anchor="end">0.8</text>
<text x="46.9" y="94.02" text-anchor="end">0.9</text>
<text x="46.9" y="41.10" text-anchor="end">1.0</text>
<text x="211.90" y="370.3" text-anchor="middle">5</text>
<text x="332.40" y="370.3" text-anchor="middle">10</text>
<text x="452.90" y="370.3" text-anchor="middle">20</text>
</g>
<text y="10.55" font-size="13.8"><tspan x="267.7" font-style="italic">M</tspan><tspan font-style="italic" font-size="10.1" dy="2.5">H</tspan><tspan x="287.5" dy="-2.5">=</tspan><tspan x="296.9">1,</tspan><tspan x="311.6" font-style="italic">a</tspan><tspan font-size="10.1" dy="2.5">0</tspan><tspan x="325.3" dy="-2.5">=</tspan><tspan x="334.9">100</tspan></text>
<text y="394.55" font-size="13.8"><tspan x="298.2">r/</tspan><tspan x="307.8" font-style="italic">M</tspan><tspan font-style="italic" font-size="10.1" dy="2.5" dx="0.4">B</tspan></text>
<text transform="translate(10.4,203.4) rotate(-90)" font-size="13.8" stroke-width="0.2"><tspan font-style="italic">V</tspan><tspan font-size="10.1" dy="3.0" dx="-0.2">eff</tspan></text>
<text y="200.00" font-size="15.8"><tspan x="431.65">L</tspan><tspan x="440.80">=</tspan><tspan x="450.15" font-style="italic">L</tspan><tspan x="459.25" font-size="11.3" dy="2.2">ISCO</tspan><tspan x="487.30" dy="-2.2">=3.4696</tspan></text>
<text y="230.25" font-size="15.8"><tspan x="431.65">L</tspan><tspan x="440.70" letter-spacing="0.1">=3.60</tspan></text>
<text y="260.80" font-size="15.8"><tspan x="431.65">L</tspan><tspan x="440.70" letter-spacing="0.1">=3.75</tspan></text>
<text y="291.40" font-size="15.8"><tspan x="431.65">L</tspan><tspan x="440.70" letter-spacing="0.1">=3.90</tspan></text>
<text y="322.35" font-size="15.8"><tspan x="431.65">L</tspan><tspan x="440.80">=</tspan><tspan x="450.15" font-style="italic">L</tspan><tspan x="458.70" font-size="11.3" dy="2.2">MBO</tspan><tspan x="485.70" dy="-2.2">=4.0764</tspan></text>
</g>
</svg>
</body></html>
